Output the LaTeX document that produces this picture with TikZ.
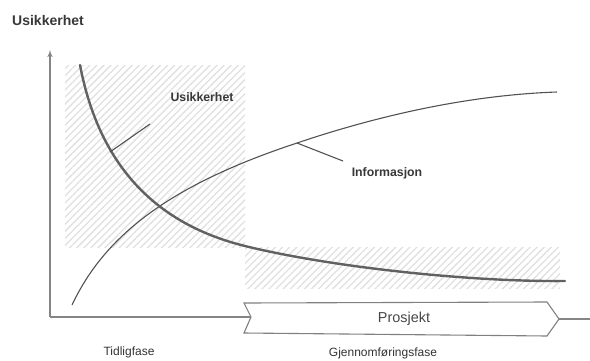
\documentclass[tikz,border=0pt]{standalone}
\usepackage{fontspec}
\setmainfont{Liberation Sans}
\usetikzlibrary{arrows,positioning,calc,patterns.meta}
\tikzset{
axis/.style = {draw=black!48, line width=1.4pt},
hatch/.style = {pattern={Lines[angle=45,distance=5pt,line width=1.3pt]}, pattern color=black!12},
usik/.style = {draw=black!62, line width=2.4pt, line cap=round},
info/.style = {draw=black!68, line width=1.1pt},
callout/.style = {draw=black!68, line width=1.1pt},
label/.style = {font=\fontsize{12.3}{14}\selectfont\bfseries, text=black!78, inner sep=0pt},
phase/.style = {font=\fontsize{12}{14}\selectfont, text=black!80, inner sep=0pt},
projbox/.style = {draw=black!50, line width=1.1pt, fill=white}
}
\begin{document}
\begin{tikzpicture}[x=1pt, y=-1pt, >=latex']
    \useasboundingbox (0,0) rectangle (590,360);

    % hatched areas
    \fill [hatch] (65,65) rectangle (245,247);
    \fill [hatch] (245,247) rectangle (560,288);

    \coordinate (origin) at (50,317);
    \coordinate (ytop) at (50,50);
    \coordinate (xend) at (590,319);

    \draw [axis,->] (origin) -- (ytop);

    % project arrow
    \coordinate (pnotch) at (251,317);
    \coordinate (ptip) at (559,319);
    \draw [projbox] (244,303) -- (547,302) -- (ptip) -- (547,336) -- (244,333) -- (pnotch) -- cycle;
    \draw [axis] (origin) -- (pnotch);
    \draw [axis, line width=1.1pt] (ptip) -- (xend);
    \node [font=\fontsize{14.4}{16}\selectfont, text=black!72, inner sep=0pt] (prosjekt) at (404,319) {Prosjekt};

    % curves
    \coordinate (usikpt) at (110,152);
    \coordinate (infopt) at (297,143);
    \draw [info] (72,305) .. controls (105,235) and (170,185) .. (infopt)
                 .. controls (380,115) and (470,95) .. (557,92);
    \draw [usik] (80,65) .. controls (100,170) and (160,225) .. (245,246)
                 .. controls (330,267) and (470,282) .. (565,281);

    \node [label] (usiklbl) at (202,97) {Usikkerhet};
    \node [label] (infolbl) at (387,173) {Informasjon};
    \coordinate (usikend) at (150,124);
    \coordinate (infoend) at (343,161);
    \draw [callout] (usikpt) -- (usikend);
    \draw [callout] (infopt) -- (infoend);

    \node [label, font=\fontsize{14}{16}\selectfont\bfseries, anchor=west] (title) at (12,20) {Usikkerhet};
    \node [phase] (tidlig) at (129,352) {Tidligfase};
    \node [phase] (gjennom) at (383,353) {Gjennomføringsfase};
\end{tikzpicture}
\end{document}
